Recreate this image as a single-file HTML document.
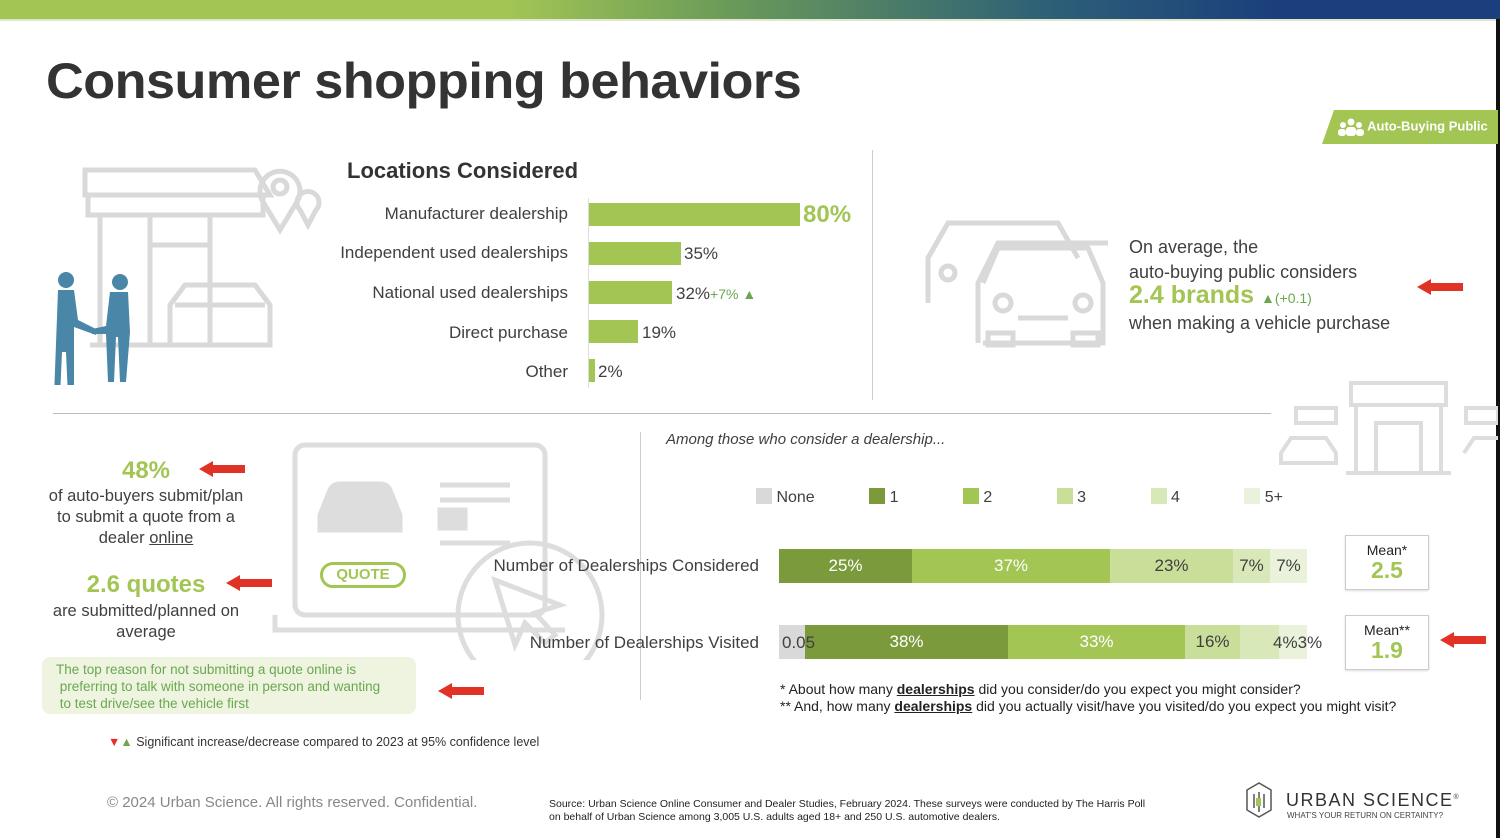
<!DOCTYPE html>
<html><head><meta charset="utf-8"><style>
*{margin:0;padding:0;box-sizing:border-box}
body{width:1500px;height:838px;position:relative;background:#fff;font-family:"Liberation Sans",sans-serif;color:#404040;overflow:hidden}
.a{position:absolute;white-space:nowrap}
.r{text-align:right}
.c{text-align:center}
.g{color:#a2c554;font-weight:bold}
.bar{position:absolute;background:#a2c554}
.seg{position:absolute;top:0;height:100%;font-size:17px;display:flex;align-items:center;justify-content:center}
.arrow{position:absolute;width:46px;height:16px}
</style></head><body>
<div class="a" style="left:0;top:0;width:1500px;height:19px;background:linear-gradient(90deg,#a2c554 0%,#a2c554 34%,#6c9c58 48%,#2d5f78 70%,#1b3f7c 85%,#1b3f7c 100%)"></div>
<div class="a" style="left:0;top:19px;width:1500px;height:2px;background:#dfe8cf"></div>
<div class="a" style="left:1496px;top:19px;width:4px;height:819px;background:#111"></div>
<div class="a" style="left:46px;top:52px;font-size:50px;font-weight:bold;color:#333;letter-spacing:-0.5px;transform:scaleX(1.045);transform-origin:left">Consumer shopping behaviors</div>
<div class="a" style="left:1322px;top:110px;width:176px;height:34px;background:#a2c554;clip-path:polygon(12px 0,100% 0,100% 100%,0 100%)"></div>
<div class="a" style="left:1338px;top:118px;color:#fff;font-size:13px;font-weight:bold">
<svg width="26" height="18" style="vertical-align:middle"><circle cx="13" cy="4" r="3.5" fill="#fff"/><circle cx="5" cy="7" r="3" fill="#fff"/><circle cx="21" cy="7" r="3" fill="#fff"/><rect x="8" y="9" width="10" height="9" rx="3" fill="#fff"/><rect x="0" y="11" width="8" height="7" rx="3" fill="#fff"/><rect x="18" y="11" width="8" height="7" rx="3" fill="#fff"/></svg> Auto-Buying Public</div>

<svg class="a" style="left:50px;top:155px" width="280" height="235" fill="none" stroke="#d9d9d9" stroke-width="5">
<path d="M35 15 H205 L220 40 H35 Z"/><rect x="38" y="40" width="175" height="20"/><line x1="50" y1="60" x2="50" y2="190"/><line x1="100" y1="60" x2="100" y2="190"/><line x1="160" y1="60" x2="160" y2="190"/><rect x="100" y="90" width="60" height="100"/><path d="M40 190 H220"/>
<path d="M230 75 L212 45 A20 20 0 1 1 248 45 Z"/><circle cx="230" cy="32" r="7"/>
<path d="M258 70 L250 55 A11 11 0 1 1 266 55 Z"/>
<path d="M120 190 h100 v-40 l-15-20 h-70 l-15 20 z"/><line x1="125" y1="150" x2="215" y2="150"/>
</svg>
<svg class="a" style="left:52px;top:270px" width="85" height="115"><g fill="#4a86a8"><circle cx="14" cy="10" r="8"/><path d="M6 20 h16 l4 30 l20 10 l-2 5 l-22-8 l0 70 h-6 l-2-45 h-4 l-2 45 h-6 z"/><circle cx="68" cy="12" r="8"/><path d="M58 22 h18 l2 40 l-4 50 h-6 l-2-45 h-2 l-2 45 h-6 l-2-48 l-14 0 l0-5 l14-3 z"/></g></svg>

<div class="a" style="left:347px;top:158px;font-size:22px;font-weight:bold;color:#333">Locations Considered</div>
<div class="a" style="left:588px;top:198px;width:1px;height:190px;background:#ddd"></div>
<div class="a r" style="left:300px;width:268px;top:204px;font-size:17px">Manufacturer dealership</div>
<div class="a r" style="left:300px;width:268px;top:243px;font-size:17px">Independent used dealerships</div>
<div class="a r" style="left:300px;width:268px;top:283px;font-size:17px">National used dealerships</div>
<div class="a r" style="left:300px;width:268px;top:323px;font-size:17px">Direct purchase</div>
<div class="a r" style="left:300px;width:268px;top:362px;font-size:17px">Other</div>
<div class="bar" style="left:589px;top:203px;width:211px;height:23px"></div>
<div class="bar" style="left:589px;top:242px;width:92px;height:23px"></div>
<div class="bar" style="left:589px;top:281px;width:83px;height:23px"></div>
<div class="bar" style="left:589px;top:320px;width:49px;height:23px"></div>
<div class="bar" style="left:589px;top:359px;width:6px;height:23px"></div>
<div class="a g" style="left:803px;top:201px;font-size:24px">80%</div>
<div class="a" style="left:684px;top:244px;font-size:17px">35%</div>
<div class="a" style="left:676px;top:284px;font-size:17px">32%<span style="color:#6aa84f;font-size:14px">+7% ▲</span></div>
<div class="a" style="left:642px;top:323px;font-size:17px">19%</div>
<div class="a" style="left:598px;top:362px;font-size:17px">2%</div>

<div class="a" style="left:872px;top:150px;width:1px;height:250px;background:#ccc"></div>
<svg class="a" style="left:918px;top:208px" width="190" height="145" fill="none" stroke="#d9d9d9" stroke-width="5">
<path d="M10 95 v-45 l20-35 h110 l20 35"/><path d="M60 135 v-60 l20-40 h110"/>
<path d="M65 75 l15-35 h90 l15 35 v60 h-120"/><circle cx="85" cy="95" r="8"/><circle cx="165" cy="95" r="8"/><line x1="100" y1="110" x2="150" y2="110"/><rect x="70" y="125" width="25" height="12"/><rect x="155" y="125" width="25" height="12"/>
<circle cx="30" cy="65" r="7"/>
</svg>
<div class="a" style="left:1129px;top:235px;font-size:18px;line-height:25px;color:#404040">On average, the<br>auto-buying public considers</div>
<div class="a" style="left:1129px;top:281px;font-size:25px;font-weight:bold;color:#a2c554">2.4 brands <span style="font-size:14px;font-weight:normal;color:#6aa84f">▲(+0.1)</span></div>
<div class="a" style="left:1129px;top:313px;font-size:18px">when making a vehicle purchase</div>
<svg class="arrow" style="left:1417px;top:279px" viewBox="0 0 46 16"><path d="M0 8 L14 0 V4 H46 V12 H14 V16 Z" fill="#e03325"/></svg>

<div class="a" style="left:53px;top:413px;width:1218px;height:1px;background:#bbb"></div>
<svg class="a" style="left:1276px;top:378px" width="222" height="100" fill="none" stroke="#ddd" stroke-width="4">
<rect x="75" y="5" width="95" height="22"/><line x1="80" y1="27" x2="80" y2="95"/><line x1="165" y1="27" x2="165" y2="95"/><rect x="100" y="45" width="45" height="50"/><line x1="70" y1="95" x2="175" y2="95"/>
<rect x="20" y="30" width="40" height="15"/><path d="M5 75 l10-15 h35 l10 15 v10 h-55 z"/><rect x="190" y="30" width="32" height="15"/><path d="M188 75 l10-15 h30"/>
</svg>

<svg class="a" style="left:270px;top:440px" width="350" height="220" fill="none" stroke="#ddd" stroke-width="5">
<rect x="25" y="5" width="250" height="170" rx="10"/><path d="M5 175 v15 h290"/>
<path d="M50 75 l10-25 q3-6 10-6 h40 q7 0 10 6 l10 25 v15 h-80 z" fill="#ddd"/><line x1="170" y1="45" x2="240" y2="45"/><line x1="170" y1="60" x2="240" y2="60"/><rect x="170" y="70" width="25" height="18" fill="#ddd"/><line x1="170" y1="103" x2="240" y2="103"/>
<circle cx="260" cy="175" r="72"/><path d="M225 140 l65 25 l-25 8 l20 22 l-10 8 l-20-20 l-10 22 z"/>
</svg>
<div class="a c" style="left:320px;top:562px;width:86px;height:26px;border:3px solid #a2c554;border-radius:14px;color:#a2c554;font-weight:bold;font-size:15px;line-height:20px;background:#fff">QUOTE</div>

<div class="a c g" style="left:46px;width:200px;top:457px;font-size:24px">48%</div>
<div class="a c" style="left:41px;width:210px;top:486px;font-size:16.5px;line-height:21px;white-space:normal">of auto-buyers submit/plan to submit a quote from a dealer <u>online</u></div>
<svg class="arrow" style="left:199px;top:461px" viewBox="0 0 46 16"><path d="M0 8 L14 0 V4 H46 V12 H14 V16 Z" fill="#e03325"/></svg>
<div class="a c g" style="left:46px;width:200px;top:571px;font-size:24px">2.6 quotes</div>
<div class="a c" style="left:36px;width:220px;top:601px;font-size:16.5px;line-height:21px;white-space:normal">are submitted/planned on average</div>
<svg class="arrow" style="left:226px;top:575px" viewBox="0 0 46 16"><path d="M0 8 L14 0 V4 H46 V12 H14 V16 Z" fill="#e03325"/></svg>
<div class="a" style="left:42px;top:657px;width:374px;height:57px;background:#eef4e0;border-radius:8px"></div>
<div class="a" style="left:56px;top:661px;font-size:13.5px;line-height:17px;color:#6aa84f">The top reason for not submitting a quote online is<br>&nbsp;preferring to talk with someone in person and wanting<br>&nbsp;to test drive/see the vehicle first</div>
<svg class="arrow" style="left:438px;top:683px" viewBox="0 0 46 16"><path d="M0 8 L14 0 V4 H46 V12 H14 V16 Z" fill="#e03325"/></svg>
<div class="a" style="left:108px;top:735px;font-size:12.5px;color:#333"><span style="color:#e03325">▼</span><span style="color:#6aa84f">▲</span> Significant increase/decrease compared to 2023 at 95% confidence level</div>

<div class="a" style="left:640px;top:432px;width:1px;height:268px;background:#ccc"></div>
<div class="a" style="left:666px;top:431px;font-size:15px;font-style:italic;color:#404040">Among those who consider a dealership...</div>
<div class="a" style="left:756px;top:488px;font-size:16px;line-height:18px">
<span style="display:inline-block;width:16px;height:16px;background:#d9d9d9;vertical-align:-2px"></span> None
<span style="display:inline-block;width:16px;height:16px;background:#7a9a3c;vertical-align:-2px;margin-left:50px"></span> 1
<span style="display:inline-block;width:16px;height:16px;background:#a2c554;vertical-align:-2px;margin-left:60px"></span> 2
<span style="display:inline-block;width:16px;height:16px;background:#c8de99;vertical-align:-2px;margin-left:60px"></span> 3
<span style="display:inline-block;width:16px;height:16px;background:#d8e8b8;vertical-align:-2px;margin-left:60px"></span> 4
<span style="display:inline-block;width:16px;height:16px;background:#eaf2dc;vertical-align:-2px;margin-left:60px"></span> 5+</div>

<div class="a r" style="left:440px;width:319px;top:556px;font-size:17px">Number of Dealerships Considered</div>
<div class="a r" style="left:440px;width:319px;top:633px;font-size:17px">Number of Dealerships Visited</div>
<div class="a" style="left:779px;top:549px;width:528px;height:34px">
<div class="seg" style="left:0;width:133px;background:#7a9a3c;color:#fff">25%</div>
<div class="seg" style="left:133px;width:198px;background:#a2c554;color:#fff">37%</div>
<div class="seg" style="left:331px;width:123px;background:#c8de99">23%</div>
<div class="seg" style="left:454px;width:37px;background:#d8e8b8">7%</div>
<div class="seg" style="left:491px;width:37px;background:#eaf2dc">7%</div></div>
<div class="a" style="left:779px;top:625px;width:528px;height:34px">
<div class="seg" style="left:0;width:26px;background:#d9d9d9"></div>
<div class="seg" style="left:26px;width:203px;background:#7a9a3c;color:#fff">38%</div>
<div class="seg" style="left:229px;width:177px;background:#a2c554;color:#fff">33%</div>
<div class="seg" style="left:406px;width:55px;background:#c8de99">16%</div>
<div class="seg" style="left:461px;width:39px;background:#d8e8b8"></div>
<div class="seg" style="left:500px;width:28px;background:#eaf2dc"></div></div>
<div class="a" style="left:782px;top:633px;font-size:17px">0.05</div>
<div class="a" style="left:1273px;top:633px;font-size:17px">4%3%</div>

<div class="a c" style="left:1345px;top:535px;width:84px;height:55px;border:1px solid #ccc;box-shadow:0 1px 2px #ddd">
<div style="font-size:14px;margin-top:6px;color:#222">Mean*</div><div style="font-size:23px;font-weight:bold;color:#a2c554;line-height:24px">2.5</div></div>
<div class="a c" style="left:1345px;top:615px;width:84px;height:55px;border:1px solid #ccc;box-shadow:0 1px 2px #ddd">
<div style="font-size:14px;margin-top:6px;color:#222">Mean**</div><div style="font-size:23px;font-weight:bold;color:#a2c554;line-height:24px">1.9</div></div>
<svg class="arrow" style="left:1440px;top:632px" viewBox="0 0 46 16"><path d="M0 8 L14 0 V4 H46 V12 H14 V16 Z" fill="#e03325"/></svg>

<div class="a" style="left:780px;top:681px;font-size:14px;line-height:17px;color:#222">* About how many <b><u>dealerships</u></b> did you consider/do you expect you might consider?<br>** And, how many <b><u>dealerships</u></b> did you actually visit/have you visited/do you expect you might visit?</div>

<div class="a" style="left:107px;top:794px;font-size:15px;color:#888">© 2024 Urban Science. All rights reserved. Confidential.</div>
<div class="a" style="left:549px;top:798px;font-size:10.5px;line-height:13px;color:#222">Source: Urban Science Online Consumer and Dealer Studies, February 2024. These surveys were conducted by The Harris Poll<br>on behalf of Urban Science among 3,005 U.S. adults aged 18+ and 250 U.S. automotive dealers.</div>
<svg class="a" style="left:1242px;top:780px" width="38" height="40" fill="none" stroke="#555" stroke-width="1.5"><path d="M5 10 l12-7 l12 7 v20 l-12 7 l-12-7z"/><path d="M12 14 v14 M17 12 v20 M22 14 v14"/><rect x="14" y="18" width="5" height="8" fill="#a2c554" stroke="none"/></svg>
<div class="a" style="left:1286px;top:790px;font-size:18px;letter-spacing:1.5px;color:#333">URBAN SCIENCE<sup style="font-size:7px">®</sup></div>
<div class="a" style="left:1287px;top:811px;font-size:8px;color:#444">WHAT'S YOUR RETURN ON CERTAINTY?</div>
</body></html>
